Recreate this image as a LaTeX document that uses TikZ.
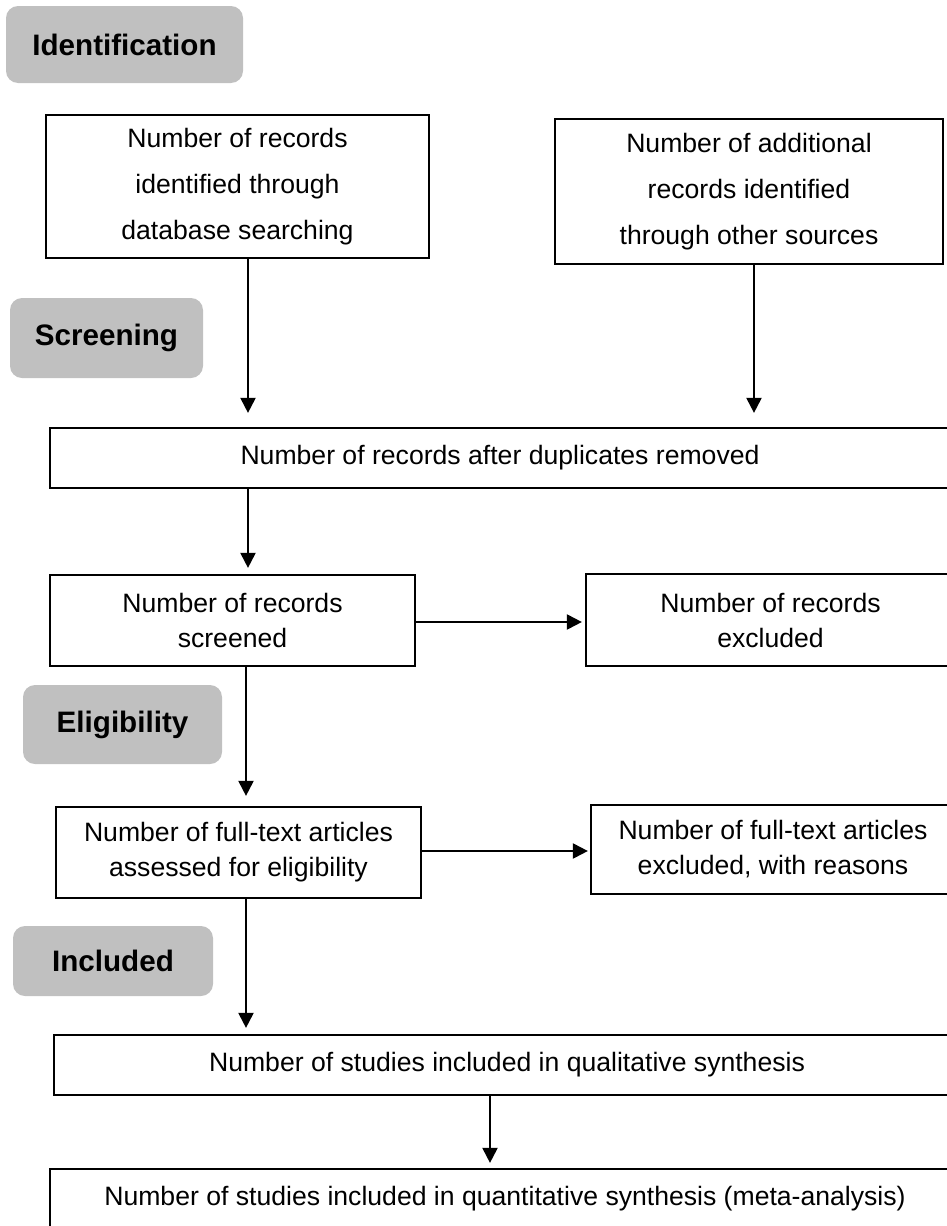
\documentclass[tikz,border=0pt]{standalone}
\usepackage{fontspec}
\setmainfont{Liberation Sans}
\usetikzlibrary{arrows.meta}
\definecolor{phasegray}{RGB}{192,192,192}
\begin{document}
\begin{tikzpicture}[x=0.5pt,y=-0.5pt,
  box/.style={draw=black, line width=1.1pt, fill=white, align=center, inner sep=0pt},
  tallbox/.style={box, font=\fontsize{13.3}{23}\selectfont},
  midbox/.style={box, font=\fontsize{13.3}{17.5}\selectfont},
  widebox/.style={box, font=\fontsize{13.3}{15}\selectfont},
  phase/.style={fill=phasegray, draw=none, rounded corners=6pt, inner sep=0pt, font=\fontsize{14.8}{17}\selectfont\bfseries},
  arr/.style={line width=1pt, -{Triangle[width=7.5pt,length=7.5pt]}}
]
\useasboundingbox (0,0) rectangle (947,1226);
\clip (0,0) rectangle (947,1226);

% phase labels
\node[phase, minimum width=118.5pt, minimum height=38.5pt] (g1) at (124.5,44.5) {Identification};
\node[phase, minimum width=96.5pt, minimum height=40pt] (g2) at (106.5,338) {Screening};
\node[phase, minimum width=99.5pt, minimum height=39.5pt] (g3) at (122.5,724.5) {Eligibility};
\node[phase, minimum width=100pt, minimum height=35pt] (g4) at (113,961) {Included};

% boxes
\node[tallbox, minimum width=191.5pt, minimum height=71.5pt] (b1) at (237.5,186.5)
  {Number of records\\identified through\\database searching};
\node[tallbox, minimum width=194pt, minimum height=72.5pt] (b2) at (749,191.5)
  {Number of additional\\records identified\\through other sources};
\node[widebox, minimum width=450pt, minimum height=30pt] (b3) at (500,458)
  {Number of records after duplicates removed};
\node[midbox, minimum width=182.5pt, minimum height=45.5pt] (b4) at (232.5,620.5)
  {Number of records\\screened};
\node[midbox, minimum width=184.5pt, minimum height=46pt] (b5) at (770.5,620)
  {Number of records\\excluded};
\node[midbox, minimum width=182.5pt, minimum height=45.5pt] (b6) at (238.5,852.5)
  {Number of full-text articles\\assessed for eligibility};
\node[midbox, minimum width=182pt, minimum height=44.5pt] (b7) at (773,849.5)
  {Number of full-text articles\\excluded, with reasons};
\node[widebox, minimum width=453pt, minimum height=30pt] (b8) at (507,1065)
  {Number of studies included in qualitative synthesis};
\node[widebox, minimum width=455pt, minimum height=30pt] (b9) at (505,1199)
  {Number of studies included in quantitative synthesis (meta-analysis)};

% arrow columns / rows
\coordinate (cA) at (248,0);
\coordinate (cB) at (754,0);
\coordinate (cC) at (246,0);
\coordinate (cD) at (490,0);
\coordinate (rA) at (0,622);
\coordinate (rB) at (0,851);

% connectors
\draw[arr, shorten >=7pt] (b1.south -| cA) -- (b3.north -| cA);
\draw[arr, shorten >=7pt] (b2.south -| cB) -- (b3.north -| cB);
\draw[arr, shorten >=3pt] (b3.south -| cA) -- (b4.north -| cA);
\draw[arr, shorten >=1.5pt] (b4.east |- rA) -- (b5.west |- rA);
\draw[arr, shorten >=5pt] (b4.south -| cC) -- (b6.north -| cC);
\draw[arr, shorten >=1pt] (b6.east |- rB) -- (b7.west |- rB);
\draw[arr, shorten >=3pt] (b6.south -| cC) -- (b8.north -| cC);
\draw[arr, shorten >=2.5pt] (b8.south -| cD) -- (b9.north -| cD);
\end{tikzpicture}
\end{document}
